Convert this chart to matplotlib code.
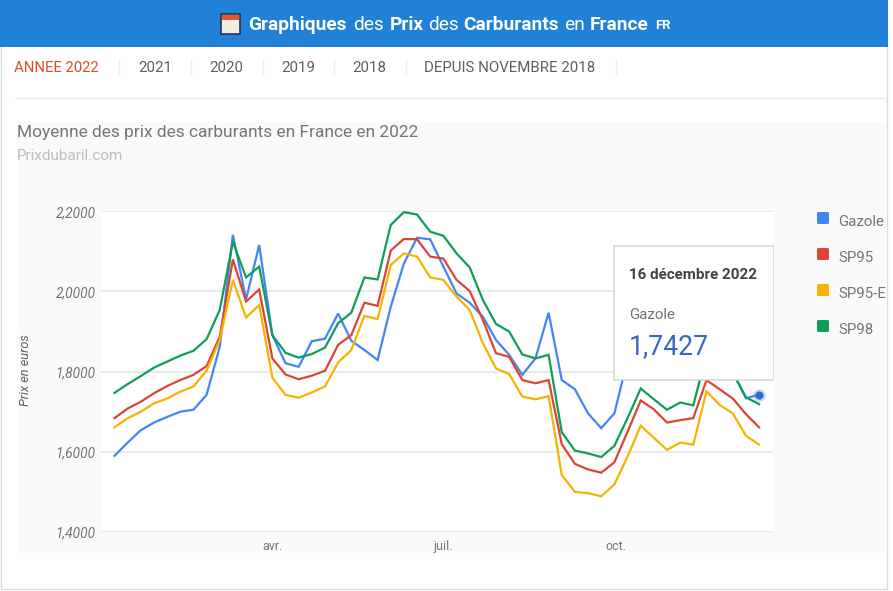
import matplotlib
matplotlib.use("Agg")
import matplotlib.dates as mdates
import matplotlib.pyplot as plt
import pandas as pd
from matplotlib.patches import FancyBboxPatch, Rectangle

plt.rcParams['font.family'] = ['Roboto', 'DejaVu Sans']

W, H = 893, 591

# weekly points, 7 jan -> 16 dec 2022
dates = pd.date_range('2022-01-07', '2022-12-16', freq='7D')

gazole = [1.590, 1.623, 1.654, 1.673, 1.687, 1.700, 1.705, 1.742, 1.862, 2.141,
          1.980, 2.116, 1.891, 1.821, 1.812, 1.876, 1.882, 1.945, 1.877, 1.854,
          1.829, 1.962, 2.070, 2.134, 2.130, 2.062, 1.995, 1.972, 1.937, 1.879,
          1.842, 1.792, 1.833, 1.947, 1.779, 1.756, 1.696, 1.659, 1.696, 1.830,
          1.920, 1.930, 1.920, 1.940, 1.940, 1.960, 1.930, 1.800, 1.7335, 1.7427]
sp95 = [1.684, 1.708, 1.725, 1.746, 1.764, 1.779, 1.792, 1.814, 1.887, 2.080,
        1.975, 2.005, 1.833, 1.793, 1.781, 1.790, 1.802, 1.867, 1.891, 1.972,
        1.964, 2.102, 2.131, 2.130, 2.087, 2.082, 2.029, 2.001, 1.929, 1.846,
        1.837, 1.779, 1.771, 1.779, 1.619, 1.570, 1.556, 1.548, 1.574, 1.650,
        1.728, 1.706, 1.673, 1.679, 1.684, 1.779, 1.756, 1.733, 1.694, 1.661]
sp95e = [1.661, 1.684, 1.700, 1.721, 1.733, 1.750, 1.763, 1.802, 1.879, 2.029,
         1.935, 1.966, 1.785, 1.742, 1.735, 1.748, 1.763, 1.823, 1.854, 1.939,
         1.931, 2.066, 2.095, 2.087, 2.035, 2.029, 1.987, 1.954, 1.871, 1.808,
         1.794, 1.738, 1.731, 1.739, 1.542, 1.500, 1.497, 1.489, 1.519, 1.588,
         1.665, 1.635, 1.605, 1.623, 1.618, 1.751, 1.717, 1.696, 1.640, 1.618]
sp98 = [1.747, 1.769, 1.789, 1.810, 1.825, 1.840, 1.852, 1.881, 1.954, 2.124,
        2.035, 2.062, 1.891, 1.847, 1.835, 1.844, 1.860, 1.921, 1.947, 2.035,
        2.030, 2.166, 2.198, 2.192, 2.149, 2.139, 2.095, 2.060, 1.979, 1.919,
        1.900, 1.843, 1.833, 1.842, 1.649, 1.603, 1.596, 1.587, 1.615, 1.684,
        1.758, 1.731, 1.705, 1.723, 1.716, 1.844, 1.820, 1.797, 1.736, 1.719]

names = ['Gazole', 'SP95', 'SP95-E', 'SP98']
colors = ['#4285f4', '#db4437', '#f4b400', '#0f9d58']
yticks = [1.4, 1.6, 1.8, 2.0, 2.2]
ytick_labels = ['1,4000', '1,6000', '1,8000', '2,0000', '2,2000']
xtick_dates = ['2022-04-01', '2022-07-01', '2022-10-01']
xtick_labels = ['avr.', 'juil.', 'oct.']
nav_labels = ['2021', '2020', '2019', '2018', 'DEPUIS NOVEMBRE 2018']

fig = plt.figure(figsize=(W / 100, H / 100), dpi=100, facecolor='white')

# page furniture, in pixels
bg = fig.add_axes([0, 0, 1, 1], zorder=0)
bg.set_xlim(0, W)
bg.set_ylim(H, 0)
bg.axis('off')
bg.add_patch(Rectangle((1, 0), 886, 589, fc='white', ec='#dcdcdc', lw=1))
bg.add_patch(Rectangle((0, 0), 888, 47, fc='#2081d6', ec='none'))
bg.add_patch(Rectangle((17, 122), 869, 431, fc='#fafafa', ec='none'))
bg.plot([15, 887], [98, 98], c='#eeeeee', lw=1)

# small calendar icon
bg.add_patch(Rectangle((221, 13.5), 19, 20, fc='#f3ece6', ec='#20344f', lw=1.2))
bg.add_patch(Rectangle((222, 14.5), 17, 5, fc='#e4572e', ec='none'))

header = [(248, 'Graphiques', 'bold'), (353, 'des', 'normal'), (390, 'Prix', 'bold'),
          (428, 'des', 'normal'), (463, 'Carburants', 'bold'), (564, 'en', 'normal'),
          (590, 'France', 'bold')]
for x, txt, weight in header:
    bg.text(x, 24.5, txt, color='white', fontsize=13.8, fontweight=weight, va='center')
bg.text(655, 25.5, 'FR', color='white', fontsize=9.4, fontweight='bold', va='center')

bg.text(14, 67.5, 'ANNEE 2022', color='#dd4b25', fontsize=10.7, va='center')
for x, txt in zip([138, 209, 281, 352, 424], nav_labels):
    bg.text(x, 67.5, txt, color='#5f5f5f', fontsize=10.8, va='center')
for x in [118.5, 190.5, 262.5, 334, 405.5, 616]:
    bg.plot([x, x], [59, 74], c='#eeeeee', lw=1)

bg.text(17, 132.5, 'Moyenne des prix des carburants en France en 2022', color='#757575',
        fontsize=12.5, va='center')
bg.text(17, 156, 'Prixdubaril.com', color='#bdbdbd', fontsize=11, va='center')
bg.text(25.5, 370, 'Prix en euros', color='#616161', fontsize=9.2, style='italic',
        rotation=90, ha='center', va='center')

# legend
for i, (name, c) in enumerate(zip(names, colors)):
    y = 218 + i * 36
    bg.add_patch(FancyBboxPatch((817, y - 6), 12, 12, boxstyle='round,pad=0,rounding_size=1.5',
                                fc=c, ec='none'))
    bg.text(838, y + 3.5, name, color='#757575', fontsize=10.8, va='center')

# plot area
ax = fig.add_axes([100.5 / W, 1 - 532 / H, (773 - 100.5) / W, (532 - 211.3) / H], zorder=1)
px_per_day = 13.155 / 7
x0 = mdates.date2num(dates[0])
ax.set_xlim(x0 - (114.5 - 100.5) / px_per_day, x0 + (773 - 114.5) / px_per_day)
ax.set_ylim(1.4, 2.2)
ax.grid(axis='y', color='#e3e3e3', lw=1.1)
ax.set_axisbelow(True)
for s in ax.spines.values():
    s.set_visible(False)

for vals, c, name in zip([gazole, sp95, sp95e, sp98], colors, names):
    ax.plot(mdates.date2num(dates), vals, c=c, lw=1.6, label=name, solid_joinstyle='miter',
            clip_on=False)

# hovered point
ax.plot(mdates.date2num(dates[-1]), gazole[-1], 'o', ms=9.5, c=colors[0], alpha=0.25, mew=0,
        clip_on=False)
ax.plot(mdates.date2num(dates[-1]), gazole[-1], 'o', ms=6, c='#3568d4', mew=0, clip_on=False)

ax.set_yticks(yticks)
ax.set_yticklabels(ytick_labels, color='#757575', fontsize=9.9, style='italic')
ax.set_xticks(mdates.date2num(pd.to_datetime(xtick_dates)))
ax.set_xticklabels(xtick_labels, color='#757575', fontsize=9)
ax.tick_params(axis='both', length=0)
ax.tick_params(axis='y', pad=3.3)
ax.tick_params(axis='x', pad=5.5)

# tooltip on top of the lines
top = fig.add_axes([0, 0, 1, 1], zorder=2)
top.set_xlim(0, W)
top.set_ylim(H, 0)
top.axis('off')
top.patch.set_alpha(0)
top.add_patch(Rectangle((612.5, 245), 161, 136, fc='#c9c9c9', ec='none', alpha=0.55))
top.add_patch(Rectangle((613.5, 245.5), 159, 133.5, fc='white', ec='#dedede', lw=0.8))
top.text(629, 275, '16 décembre 2022', color='#424242', fontsize=10.9, fontweight='bold', va='center')
top.text(629, 315, 'Gazole', color='#757575', fontsize=10.8, va='center')
top.text(629, 346.5, '1,7427', color='#3568c4', fontsize=19.2, va='center')

fig.savefig('out.png', dpi=100)
